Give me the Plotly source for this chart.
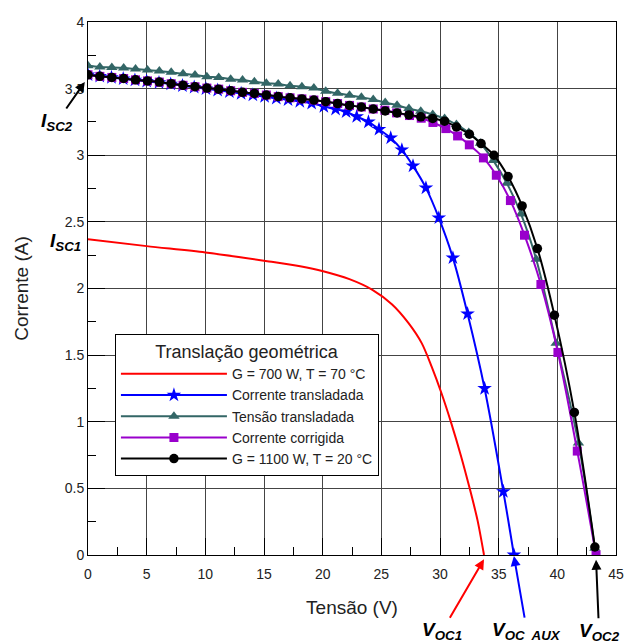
import plotly.graph_objects as go

# ---------------- data ----------------
red_v = [0, 5, 10, 15.28, 18.08, 20.04, 22.28, 24.24, 25.92, 27.32, 28.44, 29.28, 30.12, 30.96, 31.8, 32.5,
         33.2, 33.75]
red_i = [2.37, 2.318, 2.27, 2.205, 2.167, 2.13, 2.07, 1.99, 1.88, 1.74, 1.59, 1.416, 1.216, 0.99, 0.74, 0.51,
         0.26, 0.0]

blue_v = [0, 1.0, 2.0, 3.0, 4.0, 5.0, 6.05, 7.05, 8.05, 9.05, 10.05, 11.05, 12.05, 13.05, 14.05, 15.05,
          16.05, 17.05, 18.05, 19.06, 20.1, 21.1, 22.0, 22.9, 23.9, 24.8, 25.8, 26.75, 27.7, 28.8, 29.9,
          31.1, 32.35, 33.8, 35.4, 36.3]
blue_i = [3.604, 3.592, 3.583, 3.574, 3.564, 3.555, 3.545, 3.534, 3.522, 3.51, 3.499, 3.488, 3.476, 3.463,
          3.452, 3.44, 3.428, 3.416, 3.404, 3.39, 3.366, 3.346, 3.326, 3.29, 3.25, 3.195, 3.13, 3.04, 2.92,
          2.755, 2.53, 2.23, 1.81, 1.25, 0.476, 0.0]

teal_v = [0, 1.01, 2.03, 3.04, 4.05, 5.07, 6.08, 7.09, 8.1, 9.12, 10.13, 11.14, 12.16, 13.17, 14.18, 15.2,
          16.21, 17.22, 18.23, 19.25, 20.26, 21.27, 22.29, 23.3, 24.31, 25.33, 26.34, 27.35, 28.36, 29.38,
          30.39, 31.4, 32.45, 33.45, 34.55, 35.7, 36.9, 38.2, 39.9, 41.8, 43.2]
teal_i = [3.671, 3.663, 3.659, 3.654, 3.647, 3.639, 3.632, 3.622, 3.611, 3.602, 3.589, 3.584, 3.571, 3.564,
          3.551, 3.541, 3.534, 3.521, 3.514, 3.504, 3.48, 3.465, 3.45, 3.435, 3.418, 3.395, 3.375, 3.35,
          3.33, 3.305, 3.275, 3.23, 3.17, 3.09, 2.96, 2.79, 2.56, 2.22, 1.59, 0.84, 0.05]

purple_v = [0, 1.01, 2.03, 3.04, 4.05, 5.07, 6.08, 7.09, 8.1, 9.12, 10.13, 11.14, 12.16, 13.17, 14.18, 15.2,
            16.21, 17.22, 18.23, 19.25, 20.26, 21.27, 22.29, 23.3, 24.31, 25.3, 26.3, 27.4, 28.4, 29.4,
            30.5, 31.5, 32.5, 33.7, 34.8, 36.0, 37.2, 38.6, 40.05, 41.7, 43.3]
purple_i = [3.604, 3.592, 3.584, 3.576, 3.566, 3.558, 3.549, 3.537, 3.525, 3.514, 3.504, 3.496, 3.484, 3.472,
            3.464, 3.452, 3.44, 3.431, 3.423, 3.414, 3.402, 3.388, 3.374, 3.362, 3.347, 3.338, 3.318, 3.298,
            3.278, 3.246, 3.2, 3.145, 3.078, 2.98, 2.85, 2.66, 2.4, 2.03, 1.52, 0.78, 0.0]

black_v = [0, 1.01, 2.03, 3.04, 4.05, 5.07, 6.08, 7.09, 8.1, 9.12, 10.13, 11.14, 12.16, 13.17, 14.18, 15.2,
           16.21, 17.22, 18.23, 19.25, 20.26, 21.27, 22.29, 23.3, 24.31, 25.33, 26.34, 27.35, 28.36, 29.38,
           30.39, 31.4, 32.5, 33.5, 34.6, 35.8, 37.0, 38.3, 39.75, 41.45, 43.2]
black_i = [3.604, 3.592, 3.584, 3.576, 3.566, 3.558, 3.549, 3.537, 3.525, 3.514, 3.504, 3.496, 3.484, 3.472,
           3.464, 3.452, 3.44, 3.431, 3.423, 3.414, 3.402, 3.388, 3.374, 3.362, 3.347, 3.333, 3.318, 3.303,
           3.288, 3.276, 3.256, 3.212, 3.158, 3.088, 3.0, 2.84, 2.62, 2.3, 1.8, 1.07, 0.06]

names = ["G = 700 W, T = 70 \u00b0C", "Corrente transladada", "Tens\u00e3o transladada",
         "Corrente corrigida", "G = 1100 W, T = 20 \u00b0C"]
legend_title = "Transla\u00e7\u00e3o geom\u00e9trica"
x_ticks = [0, 5, 10, 15, 20, 25, 30, 35, 40, 45]
y_ticks = [0, 0.5, 1, 1.5, 2, 2.5, 3, 3.5, 4]

FONT = "Liberation Sans, Arial, sans-serif"

fig = go.Figure()
fig.add_trace(go.Scatter(x=red_v, y=red_i, mode="lines", name=names[0],
                         line=dict(color="#FF0000", width=2, shape="spline", smoothing=0.8)))
fig.add_trace(go.Scatter(x=blue_v, y=blue_i, mode="lines+markers", name=names[1],
                         line=dict(color="#0000FF", width=2, shape="spline"),
                         marker=dict(symbol="star", size=11, color="#0000FF")))
fig.add_trace(go.Scatter(x=teal_v, y=teal_i, mode="lines+markers", name=names[2],
                         line=dict(color="#336666", width=2, shape="spline"),
                         marker=dict(symbol="triangle-up", size=10, color="#336666")))
fig.add_trace(go.Scatter(x=purple_v, y=purple_i, mode="lines+markers", name=names[3],
                         line=dict(color="#9900CC", width=2, shape="spline"),
                         marker=dict(symbol="square", size=9, color="#9900CC")))
fig.add_trace(go.Scatter(x=black_v, y=black_i, mode="lines+markers", name=names[4],
                         line=dict(color="#000000", width=2, shape="spline"),
                         marker=dict(symbol="circle", size=9.5, color="#000000")))

axis_common = dict(showline=True, linecolor="black", linewidth=1, mirror=True,
                   showgrid=True, gridcolor="#444444", gridwidth=1,
                   ticks="inside", ticklen=17, tickcolor="black", tickwidth=1,
                   tickfont=dict(family=FONT, size=14, color="#222"), zeroline=False)

fig.update_xaxes(range=[0, 45], tickvals=x_ticks, ticklabelstandoff=6, **axis_common,
                 minor=dict(dtick=2.5, ticks="inside", ticklen=8, tickcolor="black", showgrid=False),
                 title=dict(text="Tens\u00e3o (V)", font=dict(family=FONT, size=19, color="#222"), standoff=19))
fig.update_yaxes(range=[0, 4], tickvals=y_ticks, **axis_common,
                 minor=dict(dtick=0.25, ticks="inside", ticklen=8, tickcolor="black", showgrid=False),
                 title=dict(text="Corrente (A)", font=dict(family=FONT, size=19, color="#222"), standoff=31))

sub_font = dict(family=FONT, size=19, color="black")
fig.add_annotation(x=-0.006, xref="paper", y=3.55, yref="y", text="<b><i>I<sub>SC2</sub></i></b>",
                   showarrow=True, ax=-28, ay=40, arrowhead=2, arrowsize=1, arrowwidth=2,
                   arrowcolor="black", font=sub_font)
fig.add_annotation(x=-0.043, xref="paper", y=2.35, yref="y", xanchor="center", yanchor="middle",
                   text="<b><i>I<sub>SC1</sub></i></b>", showarrow=False, font=sub_font)
fig.add_annotation(x=red_v[-1], xref="x", y=-0.008, yref="paper", text="<b><i>V<sub>OC1</sub></i></b>",
                   showarrow=True, ax=-42, ay=72, arrowhead=2, arrowsize=1, arrowwidth=2,
                   arrowcolor="#FF0000", font=sub_font)
fig.add_annotation(x=blue_v[-1], xref="x", y=-0.002, yref="paper", text="<b><i>V<sub>OC  AUX</sub></i></b>",
                   showarrow=True, ax=13, ay=75, arrowhead=2, arrowsize=1, arrowwidth=2,
                   arrowcolor="#0000FF", font=sub_font)
fig.add_annotation(x=purple_v[-1], xref="x", y=-0.009, yref="paper", text="<b><i>V<sub>OC2</sub></i></b>",
                   showarrow=True, ax=3, ay=72, arrowhead=2, arrowsize=1, arrowwidth=2,
                   arrowcolor="black", font=sub_font)

fig.update_layout(
    width=632, height=644,
    margin=dict(l=88, r=8, t=22, b=89, pad=0),
    paper_bgcolor="white", plot_bgcolor="white",
    font=dict(family=FONT, color="#222"),
    showlegend=True,
    legend=dict(x=0.051, y=0.415, xanchor="left", yanchor="top",
                bgcolor="white", bordercolor="black", borderwidth=1,
                itemwidth=106, tracegroupgap=0,
                font=dict(family=FONT, size=14, color="#222"),
                title=dict(text=legend_title, side="top center",
                           font=dict(family=FONT, size=18, color="#222"))),
)

fig.write_html("out.html")
